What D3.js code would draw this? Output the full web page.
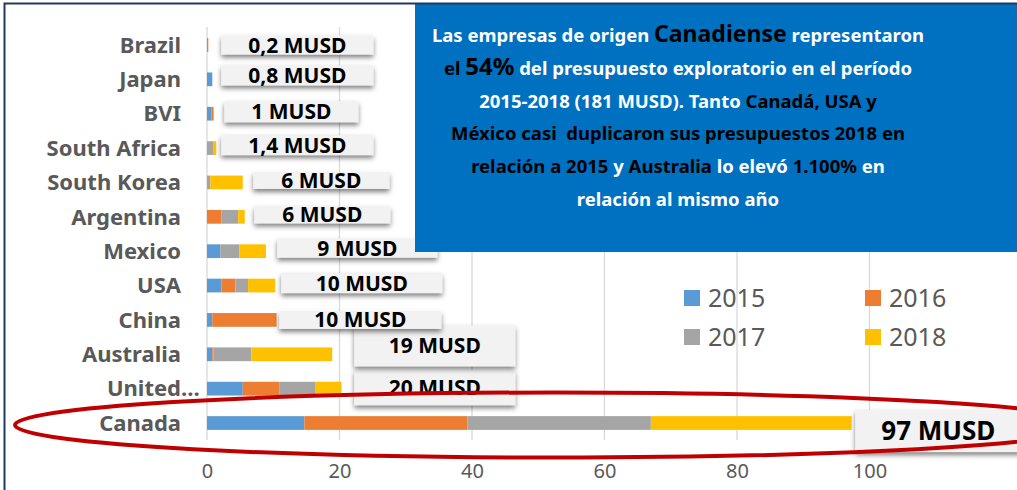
<!DOCTYPE html>
<html>
<head>
<meta charset="utf-8">
<script src="https://cdn.jsdelivr.net/npm/d3@7"></script>
<style>
  body { margin: 0; background: #fff; }
  svg { display: block; }
  text { font-family: "Noto Sans", "Open Sans", sans-serif; }
</style>
</head>
<body>
<div id="chart"></div>
<script>
var svgWidth = 1017;
var svgHeight = 490;

// data (MUSD per year)
var categories = ["Brazil", "Japan", "BVI", "South Africa", "South Korea", "Argentina",
                  "Mexico", "USA", "China", "Australia", "United…", "Canada"];
var years = ["2015", "2016", "2017", "2018"];
var v2015 = [0, 0.8, 0.7, 0, 0, 0, 2.0, 2.2, 0.8, 0.8, 5.4, 14.7];
var v2016 = [0.2, 0, 0.3, 0, 0, 2.2, 0, 2.1, 9.7, 0.2, 5.5, 24.6];
var v2017 = [0, 0, 0, 0.9, 0.5, 2.5, 2.9, 1.9, 0, 5.7, 5.4, 27.7];
var v2018 = [0, 0, 0, 0.5, 4.9, 1.0, 4.0, 4.1, 0, 12.2, 4.0, 30.3];
var totalLabels = ["0,2 MUSD", "0,8 MUSD", "1 MUSD", "1,4 MUSD", "6 MUSD", "6 MUSD",
                   "9 MUSD", "10 MUSD", "10 MUSD", "19 MUSD", "20 MUSD", "97 MUSD"];
var xTicks = [0, 20, 40, 60, 80, 100];
var colors = ["#5b9bd5", "#ed7d31", "#a5a5a5", "#ffc000"];

// where each data label box sits, relative to the end of its bar
var labelLayout = [
  {dx: 13, dy: 0, w: 152, h: 19},
  {dx: 9, dy: -4, w: 152, h: 20},
  {dx: 10.7, dy: -2, w: 134, h: 21},
  {dx: 5, dy: -3, w: 152, h: 20},
  {dx: 10.5, dy: -2, w: 136, h: 17},
  {dx: 9.5, dy: -2, w: 136, h: 17},
  {dx: 11.3, dy: -3, w: 160, h: 19},
  {dx: 6, dy: -2.5, w: 161, h: 20},
  {dx: 2.7, dy: 0, w: 162, h: 18},
  {dx: 22, dy: -8.5, w: 161, h: 41},
  {dx: 12.8, dy: -1, w: 161, h: 35},
  {dx: 3.7, dy: 8, w: 166, h: 42}
];

var rows = categories.map(function(c, i) {
  return {name: c, "2015": v2015[i], "2016": v2016[i], "2017": v2017[i], "2018": v2018[i],
          total: v2015[i] + v2016[i] + v2017[i] + v2018[i], label: totalLabels[i]};
});

var svg = d3.select("#chart")
  .append("svg")
  .attr("width", svgWidth)
  .attr("height", svgHeight);

var defs = svg.append("defs");
defs.append("filter")
  .attr("id", "shadow")
  .attr("x", "-20%").attr("y", "-40%").attr("width", "140%").attr("height", "190%")
  .append("feDropShadow")
  .attr("dx", 0).attr("dy", 3)
  .attr("stdDeviation", 2.4)
  .attr("flood-color", "#000")
  .attr("flood-opacity", 0.5);

svg.append("rect")
  .attr("width", svgWidth).attr("height", svgHeight)
  .attr("fill", "#fff");

var xScale = d3.scaleLinear()
  .domain([0, 100])
  .range([207, 869.5]);

var yScale = d3.scaleBand()
  .domain(categories)
  .range([27.8, 440.2])
  .paddingInner(0.6)
  .paddingOuter(0.3);

// gridlines
svg.append("g")
  .selectAll("line")
  .data(xTicks)
  .enter()
  .append("line")
  .attr("x1", d => xScale(d)).attr("x2", d => xScale(d))
  .attr("y1", 27).attr("y2", 440)
  .attr("stroke", "#d9d9d9")
  .attr("stroke-width", 1.3);

// x axis tick labels
var bottomAxis = d3.axisBottom(xScale).tickValues(xTicks).tickSize(0).tickPadding(0);
var xAxis = svg.append("g")
  .attr("transform", "translate(0, 458)")
  .call(bottomAxis);
xAxis.select(".domain").remove();
xAxis.selectAll("text")
  .attr("dy", 0).attr("y", 20)
  .attr("fill", "#595959")
  .attr("font-size", "20px")
  .attr("font-family", "Noto Sans");

// category labels
var catLabels = svg.append("g")
  .selectAll("text")
  .data(categories)
  .enter()
  .append("text")
  .attr("x", 181)
  .attr("y", d => yScale(d) + yScale.bandwidth() / 2)
  .attr("dy", "0.35em")
  .attr("text-anchor", "end")
  .attr("font-size", "22px")
  .attr("font-weight", "bold")
  .attr("fill", "#595959")
  .text(d => d);
// truncated name: the dots hang past the right edge like in Excel
catLabels.filter(d => d.endsWith("…")).each(function(d) {
  var t = d3.select(this);
  t.text(d.slice(0, -1));
  var w = this.getComputedTextLength();
  t.attr("text-anchor", "start").attr("x", 181 - w).text(d);
});

// stacked bars
var stack = d3.stack().keys(years);
var series = stack(rows);

svg.append("g")
  .selectAll("g")
  .data(series)
  .enter()
  .append("g")
  .attr("fill", (d, i) => colors[i])
  .selectAll("rect")
  .data(d => d)
  .enter()
  .append("rect")
  .attr("x", d => xScale(d[0]))
  .attr("y", d => yScale(d.data.name))
  .attr("width", d => xScale(d[1]) - xScale(d[0]))
  .attr("height", yScale.bandwidth());

// data label boxes (drawn bottom row first so upper boxes sit on top)
var labelGroup = svg.append("g");
var order = d3.range(rows.length).reverse();
order.forEach(function(i) {
  var d = rows[i];
  var lay = labelLayout[i];
  var cx = yScale(d.name) + yScale.bandwidth() / 2 + lay.dy;
  var x0 = xScale(d.total) + lay.dx;
  var g = labelGroup.append("g");
  g.append("rect")
    .attr("x", x0)
    .attr("y", cx - lay.h / 2)
    .attr("width", lay.w)
    .attr("height", lay.h)
    .attr("fill", "#f2f2f2")
    .attr("filter", "url(#shadow)");
  g.append("text")
    .attr("x", x0 + lay.w / 2)
    .attr("y", cx)
    .attr("dy", "0.36em")
    .attr("text-anchor", "middle")
    .attr("font-weight", "bold")
    .attr("font-size", i === rows.length - 1 ? "26px" : "21px")
    .attr("fill", "#000")
    .text(d.label);
});

// legend
var legend = svg.append("g")
  .selectAll("g")
  .data(years)
  .enter()
  .append("g")
  .attr("transform", (d, i) => `translate(${684 + (i % 2) * 181}, ${290 + Math.floor(i / 2) * 39})`);
legend.append("rect")
  .attr("width", 16).attr("height", 16)
  .attr("fill", (d, i) => colors[i]);
legend.append("text")
  .attr("x", 24).attr("y", 17)
  .attr("font-size", "25px")
  .attr("fill", "#595959")
  .text(d => d);

// blue comment box
svg.append("rect")
  .attr("x", 415).attr("y", 4)
  .attr("width", svgWidth - 415).attr("height", 248)
  .attr("fill", "#0070c0");

var W = "#ffffff", K = "#000000";
var noteLines = [
  [["Las empresas de origen ", W], ["Canadiense", K, 23], [" representaron", W]],
  [["el ", K], ["54%", K, 24], [" del presupuesto exploratorio en el período", W]],
  [["2015-2018 (181 MUSD). Tanto ", W], ["Canadá, USA y", K]],
  [["México casi  duplicaron sus presupuestos 2018 en", K]],
  [["relación a 2015 ", K], ["y ", W], ["Australia ", K], ["lo elevó ", W], ["1.100% ", K], ["en", W]],
  [["relación al mismo año", W]]
];
var note = svg.append("text")
  .attr("text-anchor", "middle")
  .attr("font-weight", "bold")
  .attr("font-size", "18.5px")
  .style("white-space", "pre");
noteLines.forEach(function(line, li) {
  line.forEach(function(part, pi) {
    var t = note.append("tspan")
      .attr("fill", part[1])
      .text(part[0]);
    if (part[2]) t.attr("font-size", part[2] + "px");
    if (pi === 0) t.attr("x", 678).attr("y", 42 + li * 32.8);
  });
});

// red highlight round Canada
var canadaY = yScale("Canada") + yScale.bandwidth() / 2;
svg.append("ellipse")
  .attr("cx", 555).attr("cy", canadaY + 2)
  .attr("rx", 540).attr("ry", 32.5)
  .attr("fill", "none")
  .attr("stroke", "#c00000")
  .attr("stroke-width", 4);

// frame
svg.append("path")
  .attr("d", `M4.5,${svgHeight} V3.5 H${svgWidth}`)
  .attr("fill", "none")
  .attr("stroke", "#1f3864")
  .attr("stroke-width", 2);
</script>
</body>
</html>
